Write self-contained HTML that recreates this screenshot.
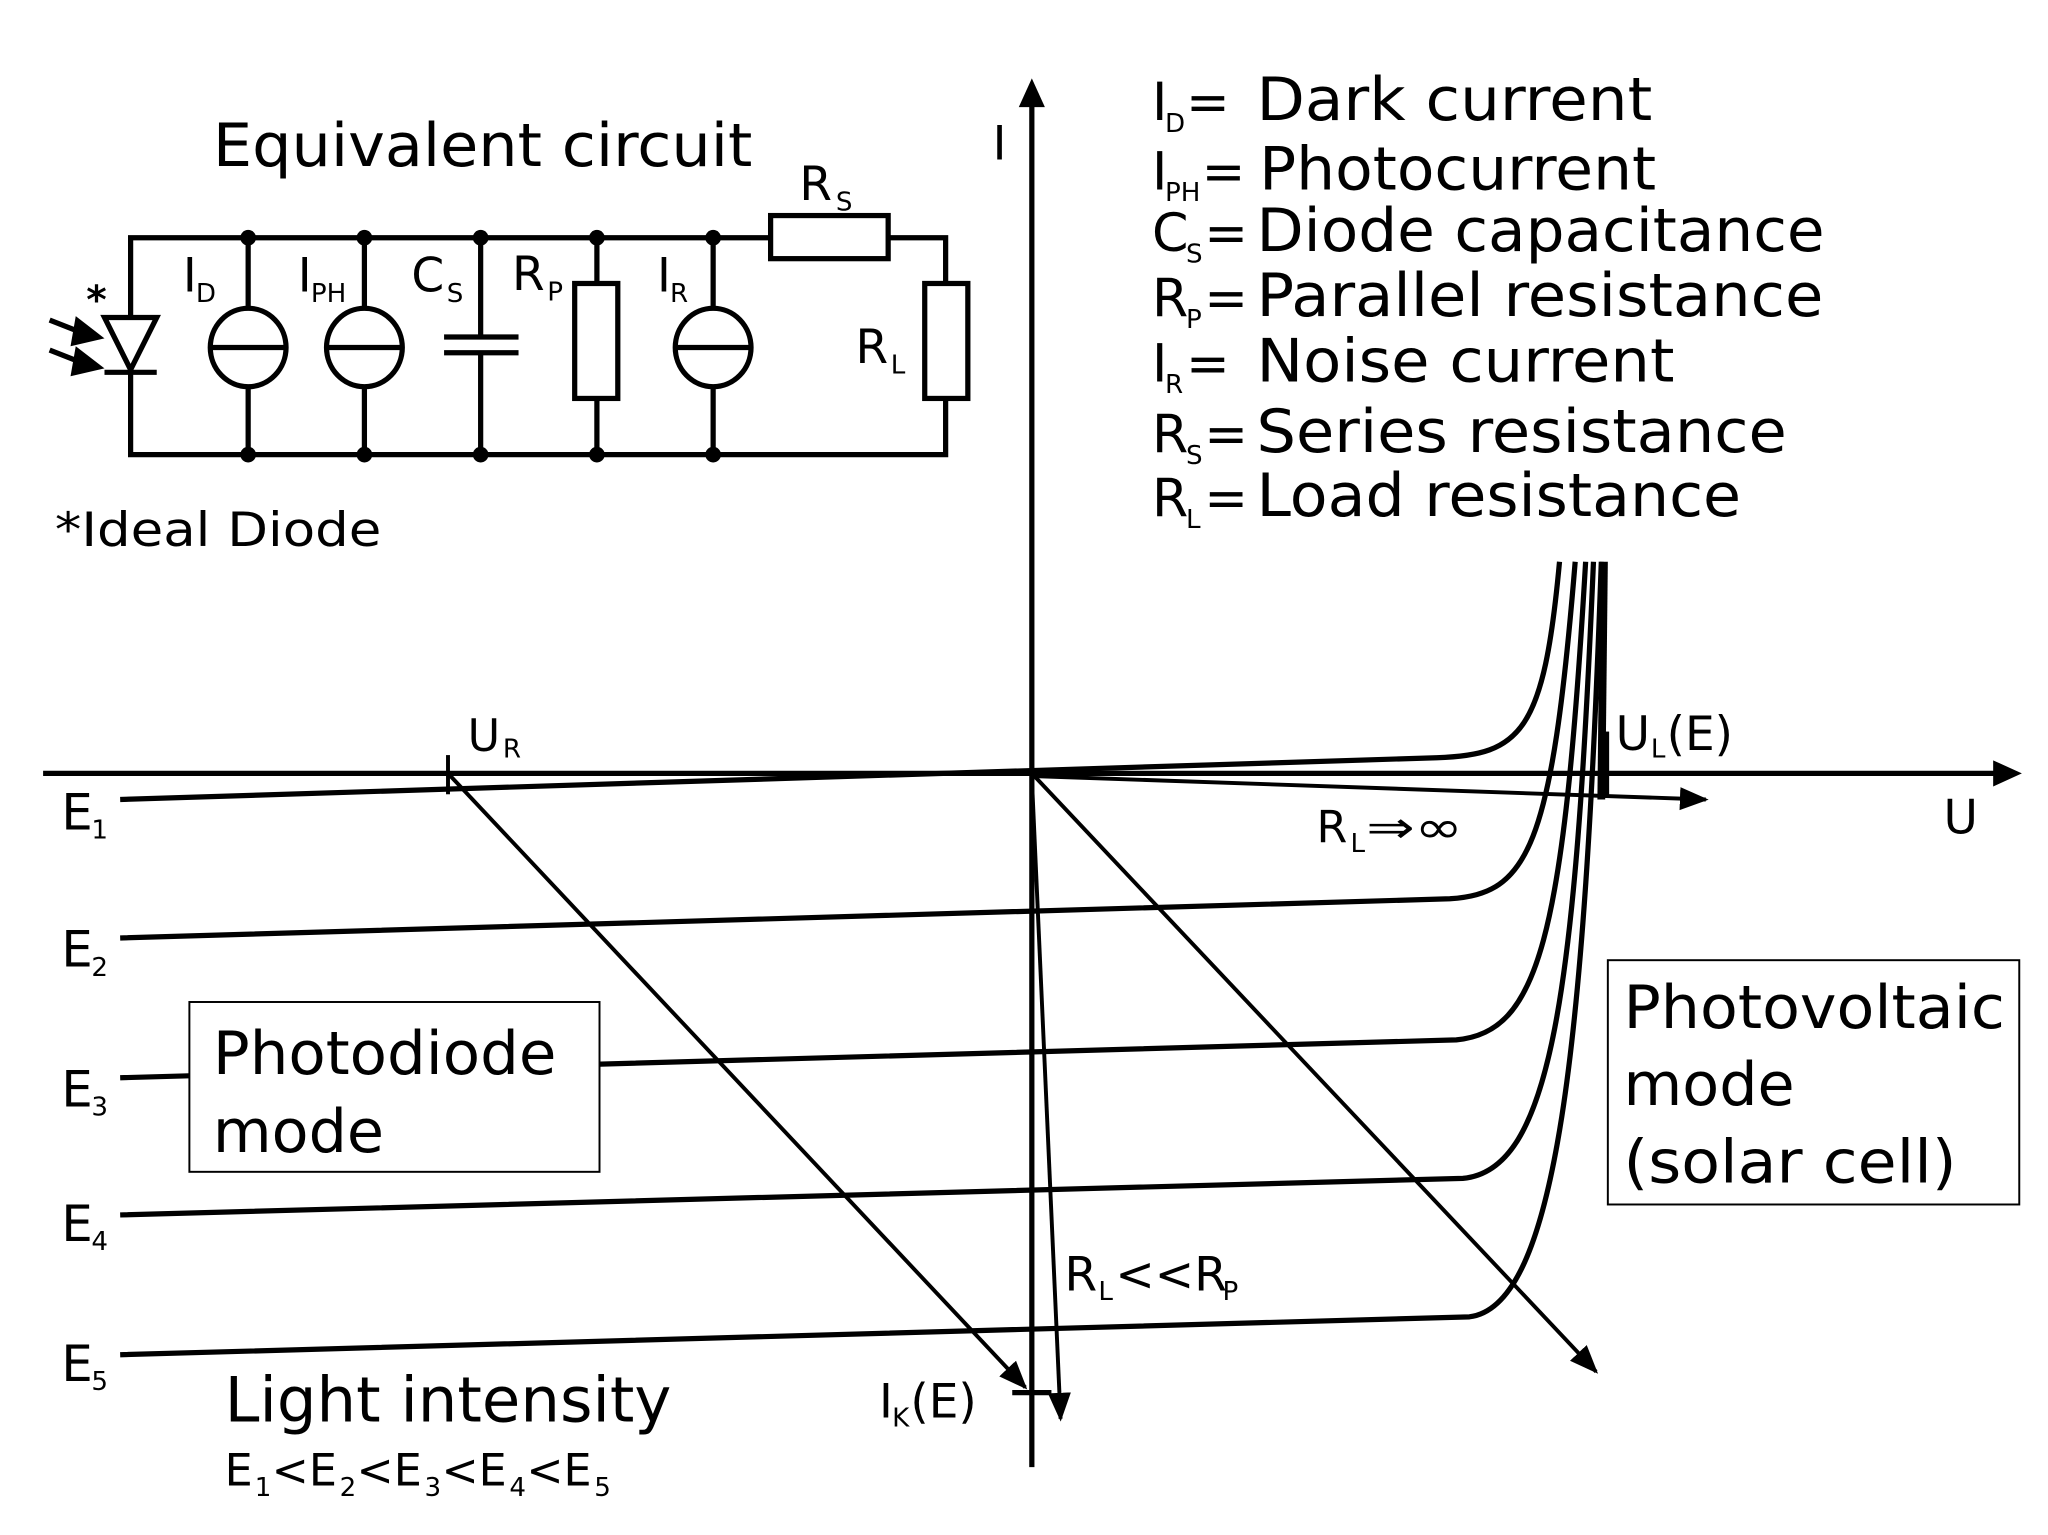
<!DOCTYPE html>
<html><head><meta charset="utf-8"><style>
html,body{margin:0;padding:0;background:#fff;}
svg{display:block;}
text{font-family:"DejaVu Sans","Liberation Sans",sans-serif;fill:#000;}
.sub{font-size:20px;}
</style></head><body>
<svg width="2048" height="1535" viewBox="0 0 1568 1175" preserveAspectRatio="none" xmlns="http://www.w3.org/2000/svg">
<defs>
<marker id="ah" viewBox="0 0 10 10" refX="9" refY="5" markerWidth="22" markerHeight="22" markerUnits="userSpaceOnUse" orient="auto"><path d="M0,1 L10,5 L0,9 z" fill="#000"/></marker>
</defs>
<rect width="1568" height="1175" fill="#fff"/>

<text x="163" y="127" font-size="46" textLength="413" lengthAdjust="spacingAndGlyphs">Equivalent circuit</text>

<g stroke="#000" stroke-width="4" fill="none">
<polyline points="590,182 100,182 100,348 724,348 724,305"/>
<polyline points="680,182 724,182 724,217"/>
<rect x="590" y="165" width="90" height="33" fill="#fff"/>
<rect x="708" y="217" width="33" height="88" fill="#fff"/>
<polygon points="80,243 120,243 100,283" fill="#fff"/>
<line x1="80" y1="285" x2="120" y2="285"/>
<line x1="190" y1="182" x2="190" y2="348"/>
<line x1="279" y1="182" x2="279" y2="348"/>
<line x1="368" y1="182" x2="368" y2="258"/>
<line x1="368" y1="270" x2="368" y2="348"/>
<line x1="457" y1="182" x2="457" y2="348"/>
<line x1="546" y1="182" x2="546" y2="348"/>
<ellipse cx="190" cy="266" rx="29" ry="30" fill="#fff"/>
<line x1="161" y1="266" x2="219" y2="266"/>
<ellipse cx="279" cy="266" rx="29" ry="30" fill="#fff"/>
<line x1="250" y1="266" x2="308" y2="266"/>
<ellipse cx="546" cy="266" rx="29" ry="30" fill="#fff"/>
<line x1="517" y1="266" x2="575" y2="266"/>
<line x1="340" y1="258" x2="397" y2="258"/>
<line x1="340" y1="270" x2="397" y2="270"/>
<rect x="440" y="217" width="33" height="88" fill="#fff"/>
<line x1="38" y1="245" x2="66" y2="256"/>
<line x1="38" y1="268" x2="66" y2="279"/>
</g>
<polygon points="58,242 80,259 54,265" fill="#000"/>
<polygon points="58,265 80,282 54,288" fill="#000"/>
<g fill="#000">
<circle cx="190" cy="182" r="6"/><circle cx="279" cy="182" r="6"/><circle cx="368" cy="182" r="6"/><circle cx="457" cy="182" r="6"/><circle cx="546" cy="182" r="6"/>
<circle cx="190" cy="348" r="6"/><circle cx="279" cy="348" r="6"/><circle cx="368" cy="348" r="6"/><circle cx="457" cy="348" r="6"/><circle cx="546" cy="348" r="6"/>
</g>
<text x="66" y="240" font-size="30" font-weight="bold">*</text>
<text x="140" y="223" font-size="36">I</text><text x="150" y="231" class="sub">D</text>
<text x="228" y="223" font-size="36">I</text><text x="238" y="231" class="sub">PH</text>
<text x="315" y="223" font-size="36">C</text><text x="342" y="231" class="sub">S</text>
<text x="392" y="222" font-size="36">R</text><text x="419" y="230" class="sub">P</text>
<text x="503" y="223" font-size="36">I</text><text x="513" y="231" class="sub">R</text>
<text x="612" y="153" font-size="36">R</text><text x="640" y="161" class="sub">S</text>
<text x="655" y="278" font-size="36">R</text><text x="682" y="286" class="sub">L</text>
<text x="42" y="418" font-size="36" textLength="250" lengthAdjust="spacingAndGlyphs">*Ideal   Diode</text>

<g font-size="46">
<text x="882" y="92" font-size="40">I</text><text x="892" y="101" class="sub">D</text><text x="908" y="92" font-size="40">=</text>
<text x="962" y="92" textLength="303" lengthAdjust="spacingAndGlyphs">Dark current</text>
<text x="882" y="145" font-size="40">I</text><text x="892" y="154" class="sub">PH</text><text x="920" y="145" font-size="40">=</text>
<text x="964" y="145" textLength="304" lengthAdjust="spacingAndGlyphs">Photocurrent</text>
<text x="882" y="192" font-size="40">C</text><text x="908" y="201" class="sub">S</text><text x="922" y="192" font-size="40">=</text>
<text x="962" y="192" textLength="435" lengthAdjust="spacingAndGlyphs">Diode capacitance</text>
<text x="882" y="242" font-size="40">R</text><text x="908" y="251" class="sub">P</text><text x="922" y="242" font-size="40">=</text>
<text x="962" y="242" textLength="434" lengthAdjust="spacingAndGlyphs">Parallel resistance</text>
<text x="882" y="292" font-size="40">I</text><text x="892" y="301" class="sub">R</text><text x="908" y="292" font-size="40">=</text>
<text x="962" y="292" textLength="320" lengthAdjust="spacingAndGlyphs">Noise current</text>
<text x="882" y="346" font-size="40">R</text><text x="908" y="355" class="sub">S</text><text x="922" y="346" font-size="40">=</text>
<text x="962" y="346" textLength="406" lengthAdjust="spacingAndGlyphs">Series resistance</text>
<text x="882" y="395" font-size="40">R</text><text x="908" y="404" class="sub">L</text><text x="922" y="395" font-size="40">=</text>
<text x="962" y="395" textLength="371" lengthAdjust="spacingAndGlyphs">Load resistance</text>
</g>

<g stroke="#000" stroke-width="4" fill="none">
<line x1="790" y1="1123" x2="790" y2="80"/>
<line x1="33" y1="592" x2="1528" y2="592"/>
</g>
<polygon points="790,60 780,82 800,82" fill="#000"/>
<polygon points="1548,592 1526,582 1526,602" fill="#000"/>
<text x="760" y="122" font-size="36">I</text>
<text x="1488" y="638" font-size="36">U</text>

<g stroke="#000" stroke-width="4" fill="none">
<path d="M92,612 L1100,580 C1165,578 1182,560 1194,430"/>
<path d="M92,718 L1110,688 C1170,684 1188,650 1206,430"/>
<path d="M92,825 L1115,796 C1178,790 1197,720 1214,430"/>
<path d="M92,930 L1120,902 C1188,896 1206,760 1220,430"/>
<path d="M92,1037 L1125,1008 C1192,1000 1213,800 1226,430"/>
<line x1="1228" y1="430" x2="1226" y2="612" stroke-width="6"/>
</g>
<rect x="1227" y="560" width="5" height="50" fill="#000"/>

<g stroke="#000" stroke-width="3" fill="none">
<line x1="343" y1="578" x2="343" y2="608"/>
<line x1="343" y1="592" x2="785" y2="1062" marker-end="url(#ah)"/>
<line x1="790" y1="592" x2="1222" y2="1050" marker-end="url(#ah)"/>
<line x1="790" y1="595" x2="812" y2="1086" marker-end="url(#ah)"/>
<line x1="790" y1="594" x2="1306" y2="612" marker-end="url(#ah)"/>
<line x1="775" y1="1066" x2="805" y2="1066" stroke-width="4"/>
</g>

<text x="358" y="575" font-size="34">U</text><text x="385" y="580" class="sub">R</text>
<text x="1237" y="574" font-size="36">U</text><text x="1264" y="580" class="sub">L</text><text x="1276" y="574" font-size="36">(E)</text>
<text x="1008" y="645" font-size="34">R</text><text x="1034" y="652" class="sub">L</text><text x="1046" y="645" font-size="34" textLength="74" lengthAdjust="spacingAndGlyphs">⇒∞</text>
<text x="815" y="988" font-size="36">R</text><text x="841" y="995" class="sub">L</text><text x="854" y="988" font-size="36">&lt;&lt;R</text><text x="936" y="995" class="sub">P</text>
<text x="673" y="1085" font-size="36">I</text><text x="683" y="1092" class="sub">K</text><text x="697" y="1085" font-size="36">(E)</text>

<g font-size="38">
<text x="47" y="635">E</text><text x="70" y="642" class="sub">1</text>
<text x="47" y="740">E</text><text x="70" y="747" class="sub">2</text>
<text x="47" y="847">E</text><text x="70" y="854" class="sub">3</text>
<text x="47" y="950">E</text><text x="70" y="957" class="sub">4</text>
<text x="47" y="1057">E</text><text x="70" y="1064" class="sub">5</text>
</g>

<rect x="145" y="767" width="314" height="130" fill="#fff" stroke="#000" stroke-width="1.5"/>
<text x="163" y="822" font-size="46" textLength="263" lengthAdjust="spacingAndGlyphs">Photodiode</text>
<text x="163" y="882" font-size="46" textLength="131" lengthAdjust="spacingAndGlyphs">mode</text>
<rect x="1231" y="735" width="315" height="187" fill="#fff" stroke="#000" stroke-width="1.5"/>
<text x="1243" y="787" font-size="46" textLength="292" lengthAdjust="spacingAndGlyphs">Photovoltaic</text>
<text x="1243" y="846" font-size="46" textLength="131" lengthAdjust="spacingAndGlyphs">mode</text>
<text x="1243" y="905" font-size="46" textLength="255" lengthAdjust="spacingAndGlyphs">(solar cell)</text>

<text x="172" y="1088" font-size="48" textLength="342" lengthAdjust="spacingAndGlyphs">Light intensity</text>
<g font-size="34">
<text x="172" y="1137">E</text><text x="195" y="1145" class="sub">1</text>
<text x="208" y="1137">&lt;E</text><text x="260" y="1145" class="sub">2</text>
<text x="273" y="1137">&lt;E</text><text x="325" y="1145" class="sub">3</text>
<text x="338" y="1137">&lt;E</text><text x="390" y="1145" class="sub">4</text>
<text x="403" y="1137">&lt;E</text><text x="455" y="1145" class="sub">5</text>
</g>
</svg>
</body></html>
